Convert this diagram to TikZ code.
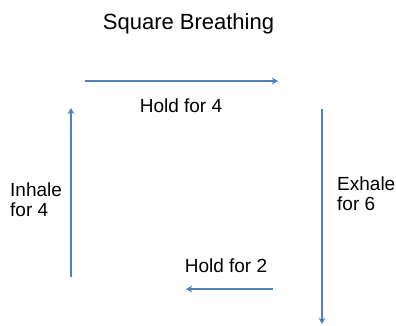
\documentclass[tikz,border=0pt]{standalone}
\usepackage{fontspec}
\setmainfont{Liberation Sans}
\usetikzlibrary{arrows.meta}
\definecolor{breathblue}{HTML}{4F81BD}
\tikzset{
  breatharrow/.style={draw=breathblue, line width=1.3pt, -{Stealth[length=6pt,width=6.5pt,inset=1.5pt]}},
  breathlabel/.style={inner sep=0pt, font=\fontsize{19}{20}\selectfont},
}

\begin{document}
\begin{tikzpicture}[x=1pt,y=-1pt]
    \useasboundingbox (0,0) rectangle (396,325);
    \node[inner sep=0pt, anchor=base, font=\fontsize{22}{26}\selectfont] (title) at (188.5,29) {Square Breathing};
    % corners of the square
    \coordinate (topl) at (85,81);
    \coordinate (topr) at (278,81);
    \coordinate (leftb) at (71,277);
    \coordinate (leftt) at (71,108);
    \coordinate (rightt) at (322,109);
    \coordinate (rightb) at (322,324);
    \coordinate (botr) at (273,289);
    \coordinate (botl) at (186,289);
    \draw[breatharrow] (leftb) -- (leftt);
    \draw[breatharrow] (topl) -- (topr);
    \draw[breatharrow] (rightt) -- (rightb);
    \draw[breatharrow] (botr) -- (botl);
    \node[breathlabel, anchor=base] (hold4) at (181,112) {Hold for 4};
    \node[breathlabel, anchor=base] (hold2) at (226,272) {Hold for 2};
    \node[breathlabel, anchor=north west, align=left] (inhale) at (10,183) {Inhale\\for 4};
    \node[breathlabel, anchor=north west, align=left] (exhale) at (337,177) {Exhale\\for 6};
\end{tikzpicture}
\end{document}
